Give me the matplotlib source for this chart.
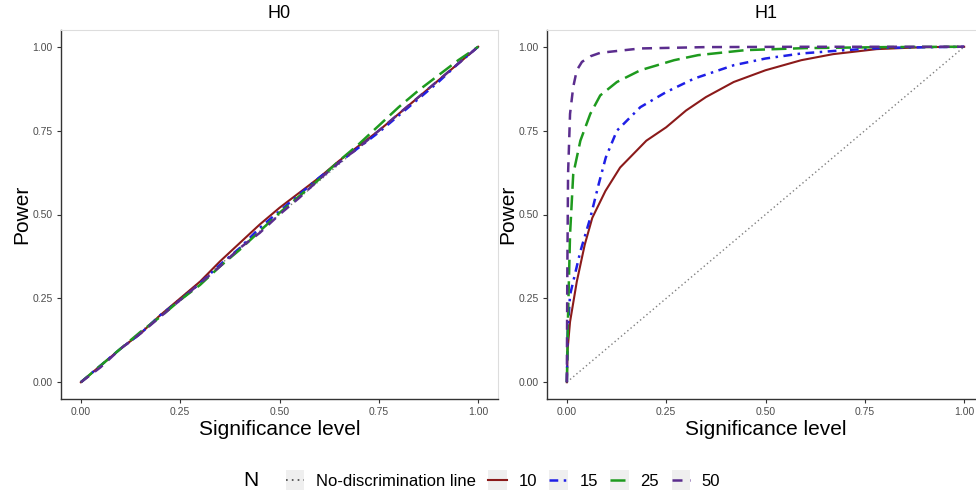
import matplotlib
matplotlib.use("Agg")
import matplotlib.pyplot as plt
from matplotlib.lines import Line2D
from matplotlib.patches import Rectangle
from matplotlib.legend_handler import HandlerLine2D

plt.rcParams['font.family'] = ['Liberation Sans', 'DejaVu Sans']

# ---------------- data ----------------
panels = ["H0", "H1"]
n_labels = ["10", "15", "25", "50"]
diag_label = "No-discrimination line"

# H0 panel (common x grid)
h0_x = [0, 0.05, 0.1, 0.15, 0.2, 0.25, 0.3, 0.35, 0.4, 0.45, 0.5,
        0.55, 0.6, 0.65, 0.7, 0.75, 0.8, 0.85, 0.9, 0.95, 1.0]
h0_10 = [0, 0.05, 0.10, 0.145, 0.20, 0.25, 0.30, 0.36, 0.415, 0.47, 0.52,
         0.565, 0.61, 0.66, 0.705, 0.75, 0.80, 0.85, 0.90, 0.95, 1.0]
h0_15 = [0, 0.05, 0.10, 0.145, 0.20, 0.245, 0.295, 0.35, 0.40, 0.46, 0.51,
         0.56, 0.61, 0.655, 0.70, 0.745, 0.795, 0.845, 0.895, 0.95, 1.0]
h0_25 = [0, 0.05, 0.10, 0.15, 0.195, 0.245, 0.29, 0.345, 0.395, 0.45, 0.505,
         0.555, 0.605, 0.66, 0.71, 0.765, 0.82, 0.87, 0.915, 0.96, 1.0]
h0_50 = [0, 0.045, 0.10, 0.145, 0.195, 0.245, 0.295, 0.345, 0.40, 0.445, 0.50,
         0.55, 0.605, 0.655, 0.70, 0.75, 0.80, 0.85, 0.90, 0.95, 1.0]

# H1 panel
h1_10_x = [0, 0.002, 0.008, 0.025, 0.045, 0.064, 0.097, 0.134, 0.167, 0.2,
           0.25, 0.3, 0.35, 0.42, 0.5, 0.59, 0.67, 0.78, 0.9, 1.0]
h1_10_y = [0, 0.10, 0.18, 0.30, 0.41, 0.49, 0.57, 0.64, 0.68, 0.72,
           0.76, 0.81, 0.85, 0.895, 0.93, 0.96, 0.978, 0.993, 0.999, 1.0]
h1_15_x = [0, 0.002, 0.008, 0.034, 0.059, 0.08, 0.098, 0.126, 0.185, 0.25,
           0.32, 0.42, 0.5, 0.59, 0.7, 0.8, 1.0]
h1_15_y = [0, 0.15, 0.26, 0.39, 0.49, 0.59, 0.67, 0.75, 0.82, 0.865,
           0.905, 0.945, 0.965, 0.98, 0.99, 0.997, 1.0]
h1_25_x = [0, 0.003, 0.008, 0.016, 0.034, 0.059, 0.084, 0.126, 0.185, 0.27,
           0.33, 0.45, 0.6, 0.8, 1.0]
h1_25_y = [0, 0.20, 0.44, 0.62, 0.72, 0.80, 0.855, 0.895, 0.93, 0.96,
           0.975, 0.99, 0.996, 0.999, 1.0]
h1_50_x = [0, 0.001, 0.003, 0.008, 0.016, 0.025, 0.038, 0.06, 0.084, 0.185,
           0.35, 0.6, 1.0]
h1_50_y = [0, 0.30, 0.62, 0.80, 0.88, 0.93, 0.955, 0.972, 0.982, 0.995,
           0.999, 1.0, 1.0]

diag_x = [0, 1]
diag_y = [0, 1]

ticks = [0.0, 0.25, 0.5, 0.75, 1.0]
tick_labels = ["0.00", "0.25", "0.50", "0.75", "1.00"]

# ---------------- style ----------------
colors = ["#8B1A1A", "#1F1FE6", "#1E9A1E", "#5B2D8E"]
dashes = [None, (3.5, 2.2, 1.0, 2.2), (6.0, 2.6), (4.0, 3.0)]
lws = [1.5, 1.8, 1.8, 1.8]

fig = plt.figure(figsize=(9.76, 4.92), dpi=100)
W, H = 976, 492
ax0 = fig.add_axes([61 / W, 1 - 399 / H, 437 / W, 369 / H])
ax1 = fig.add_axes([547 / W, 1 - 399 / H, 437 / W, 369 / H])


def style(ax, title):
    ax.set_xlim(-0.05, 1.05)
    ax.set_ylim(-0.05, 1.05)
    ax.set_xticks(ticks)
    ax.set_xticklabels(tick_labels)
    ax.set_yticks(ticks)
    ax.set_yticklabels(tick_labels)
    ax.tick_params(labelsize=7.5, colors="#333333", labelcolor="#4D4D4D",
                   length=3, width=0.8, pad=3)
    for s in ["top", "right"]:
        ax.spines[s].set_color("#DDDDDD")
        ax.spines[s].set_linewidth(0.8)
    for s in ["left", "bottom"]:
        ax.spines[s].set_color("#333333")
        ax.spines[s].set_linewidth(1.0)
    ax.set_title(title, fontsize=13, pad=9)
    ax.set_xlabel("Significance level", fontsize=15, labelpad=2)
    ax.set_ylabel("Power", fontsize=15, labelpad=1)


def draw(ax, xs_list, ys_list):
    ax.plot(diag_x, diag_y, color="#7F7F7F", lw=1.0, linestyle=(0, (1, 2)), zorder=1)
    for xs, ys, c, d, w in zip(xs_list, ys_list, colors, dashes, lws):
        ln, = ax.plot(xs, ys, color=c, lw=w, zorder=2)
        if d is not None:
            ln.set_dashes(d)


draw(ax0, [h0_x] * 4, [h0_10, h0_15, h0_25, h0_50])
draw(ax1, [h1_10_x, h1_15_x, h1_25_x, h1_50_x],
     [h1_10_y, h1_15_y, h1_25_y, h1_50_y])
style(ax0, panels[0])
style(ax1, panels[1])


class KeyHandler(HandlerLine2D):
    def create_artists(self, legend, orig_handle, xdescent, ydescent,
                       width, height, fontsize, trans):
        arts = super().create_artists(legend, orig_handle, xdescent, ydescent,
                                      width, height, fontsize, trans)
        rect = Rectangle((-xdescent, -ydescent - 3), width, height + 6,
                         facecolor="#EFEFEF", edgecolor="none", transform=trans)
        return [rect] + list(arts)


handles = [Line2D([], [], color="#444444", lw=1.2, linestyle=(0, (1, 2.5)))]
for c, d, w in zip(colors, dashes, lws):
    h = Line2D([], [], color=c, lw=w)
    if d is not None:
        h.set_dashes(d)
    handles.append(h)
labels = [diag_label] + n_labels

fig.text(243 / W, 1 - 481 / H, "N", fontsize=15, va="center", ha="left")
leg = fig.legend(handles, labels, loc="center left",
                 bbox_to_anchor=(286 / W, 1 - 481 / H), ncol=5, frameon=False,
                 fontsize=12, handlelength=1.1, handletextpad=0.7,
                 columnspacing=0.75, borderpad=0, borderaxespad=0,
                 handler_map={Line2D: KeyHandler()})

fig.savefig("out.png", dpi=100)
